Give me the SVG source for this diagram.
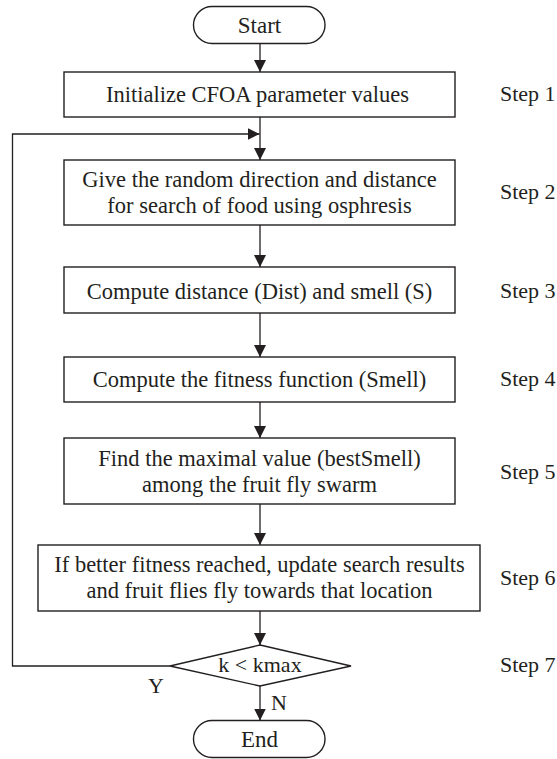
<svg xmlns="http://www.w3.org/2000/svg" width="557" height="759" viewBox="0 0 557 759">
<defs>
<marker id="ah" viewBox="0 0 12 12" refX="12" refY="6" markerWidth="12" markerHeight="12" markerUnits="userSpaceOnUse" orient="auto">
<path d="M0,0 L12,6 L0,12 Z" fill="#231f20"/>
</marker>
<style>
.box{fill:#fff;stroke:#231f20;stroke-width:1.4}
.ln{fill:none;stroke:#231f20;stroke-width:1.3}
.t{font-family:"Liberation Serif","Times New Roman",serif;font-size:22.5px;fill:#231f20;text-anchor:middle}
.s{font-family:"Liberation Serif","Times New Roman",serif;font-size:22px;fill:#231f20;text-anchor:start}
</style>
</defs>
<rect width="557" height="759" fill="#fff"/>
<g id="connectors">
<line class="ln" x1="260" y1="43.5" x2="260" y2="72" marker-end="url(#ah)"/>
<line class="ln" x1="260" y1="117" x2="260" y2="160" marker-end="url(#ah)"/>
<polyline class="ln" points="170,666 12.5,666 12.5,134 259.5,134" marker-end="url(#ah)"/>
<line class="ln" x1="260" y1="225" x2="260" y2="267" marker-end="url(#ah)"/>
<line class="ln" x1="260" y1="313" x2="260" y2="357" marker-end="url(#ah)"/>
<line class="ln" x1="260" y1="402" x2="260" y2="438" marker-end="url(#ah)"/>
<line class="ln" x1="260" y1="504" x2="260" y2="545" marker-end="url(#ah)"/>
<line class="ln" x1="260" y1="611" x2="260" y2="645" marker-end="url(#ah)"/>
<line class="ln" x1="260" y1="686" x2="260" y2="720.5" marker-end="url(#ah)"/>
<text class="s" x="148" y="693">Y</text>
<text class="s" x="271" y="710">N</text>
</g>
<g id="start">
<rect class="box" x="193.5" y="6.5" width="131.5" height="37" rx="18.5" ry="18.5"/>
<text class="t" x="259.5" y="32.5" style="font-size:23px">Start</text>
</g>
<g id="step1">
<rect class="box" x="64" y="72" width="391" height="45"/>
<text class="t" x="257.5" y="102">Initialize CFOA parameter values</text>
<text class="s" x="500" y="101">Step 1</text>
</g>
<g id="step2">
<rect class="box" x="64" y="160" width="391" height="65"/>
<text class="t" x="259.5" y="187">Give the random direction and distance</text>
<text class="t" x="259.5" y="213">for search of food using osphresis</text>
<text class="s" x="500" y="199">Step 2</text>
</g>
<g id="step3">
<rect class="box" x="64" y="267" width="391" height="46"/>
<text class="t" x="259.5" y="299">Compute  distance (Dist) and smell (S)</text>
<text class="s" x="500" y="298">Step 3</text>
</g>
<g id="step4">
<rect class="box" x="64" y="357" width="391" height="45"/>
<text class="t" x="259.5" y="387">Compute  the fitness function (Smell)</text>
<text class="s" x="500" y="386">Step 4</text>
</g>
<g id="step5">
<rect class="box" x="64" y="438" width="391" height="66"/>
<text class="t" x="259.5" y="466">Find the maximal value (bestSmell)</text>
<text class="t" x="259.5" y="492">among the fruit fly swarm</text>
<text class="s" x="500" y="479">Step 5</text>
</g>
<g id="step6">
<rect class="box" x="38" y="545" width="442" height="66"/>
<text class="t" x="259.5" y="572">If better fitness reached, update search results</text>
<text class="t" x="259.5" y="598">and fruit flies fly towards that location</text>
<text class="s" x="500" y="585">Step 6</text>
</g>
<g id="step7">
<polygon class="box" points="260,645 351,666 260,686 170,666"/>
<text class="t" x="260" y="672" style="font-size:22px">k &lt; kmax</text>
<text class="s" x="500" y="672">Step 7</text>
</g>
<g id="end">
<rect class="box" x="193.5" y="720.5" width="131.5" height="37" rx="18.5" ry="18.5"/>
<text class="t" x="259.5" y="746.5" style="font-size:23px">End</text>
</g>
</svg>
